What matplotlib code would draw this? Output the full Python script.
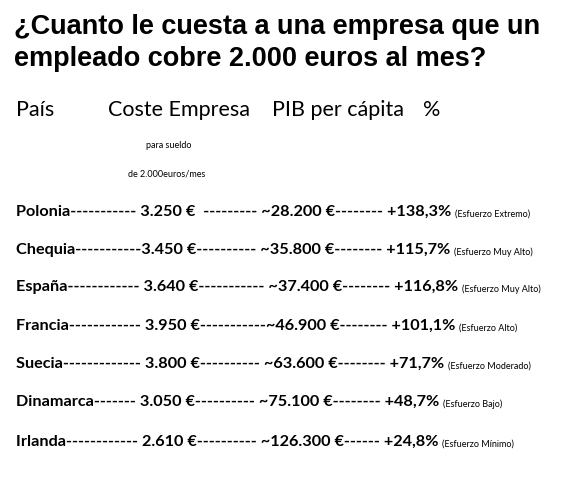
import matplotlib
matplotlib.use("Agg")
import matplotlib.pyplot as plt

TITULO = "¿Cuanto le cuesta a una empresa que un\nempleado cobre 2.000 euros al mes?"
CABECERAS = ["País", "Coste Empresa", "PIB per cápita", "%"]
CABECERAS_X = [16, 108, 272, 423]

paises = ["Polonia", "Chequia", "España", "Francia", "Suecia", "Dinamarca", "Irlanda"]
coste = ["3.250 €", "3.450 €", "3.640 €", "3.950 €", "3.800 €", "3.050 €", "2.610 €"]
pib = ["~28.200 €", "~35.800 €", "~37.400 €", "~46.900 €", "~63.600 €", "~75.100 €", "~126.300 €"]
porcentaje = ["+138,3%", "+115,7%", "+116,8%", "+101,1%", "+71,7%", "+48,7%", "+24,8%"]
esfuerzo = ["(Esfuerzo Extremo)", "(Esfuerzo Muy Alto)", "(Esfuerzo Muy Alto)",
            "(Esfuerzo Alto)", "(Esfuerzo Moderado)", "(Esfuerzo Bajo)", "(Esfuerzo Mínimo)"]
# separadores tal como aparecen en la imagen
sep1 = ["----------- ", "-----------", "------------ ", "------------ ", "------------- ", "------- ", "------------ "]
sep2 = ["  --------- ", "---------- ", "----------- ", "-----------", "---------- ", "---------- ", "---------- "]
sep3 = ["-------- ", "-------- ", "-------- ", "-------- ", "-------- ", "-------- ", "------ "]

W, H = 582, 493
fig = plt.figure(figsize=(W / 100, H / 100), dpi=100)
ax = fig.add_axes([0, 0, 1, 1])
ax.set_xlim(0, W)
ax.set_ylim(H, 0)
ax.axis("off")

ax.text(14, 43, TITULO, fontsize=19.5, fontweight="bold", family="Liberation Sans",
        va="center", ha="left", linespacing=1.3)

for cab, x in zip(CABECERAS, CABECERAS_X):
    ax.text(x, 110, cab, fontsize=15.5, family="Lato", va="center", ha="left")
ax.text(146, 145, "para sueldo", fontsize=6.5, family="Lato", va="center")
ax.text(128, 174, "de 2.000euros/mes", fontsize=6.5, family="Lato", va="center")

filas_y = [216, 254, 291, 330, 368, 406, 446]
for i, y in enumerate(filas_y):
    linea = (paises[i] + sep1[i] + coste[i] + sep2[i] + pib[i] + sep3[i] + porcentaje[i] + " ")
    t = ax.text(16, y, linea, fontsize=11.7, fontweight="bold", family="Lato",
                va="baseline", ha="left")
    ax.annotate(esfuerzo[i], xy=(1, 0), xycoords=t, fontsize=6.5, family="Lato",
                va="bottom", ha="left")

fig.savefig("out.png", dpi=100)
